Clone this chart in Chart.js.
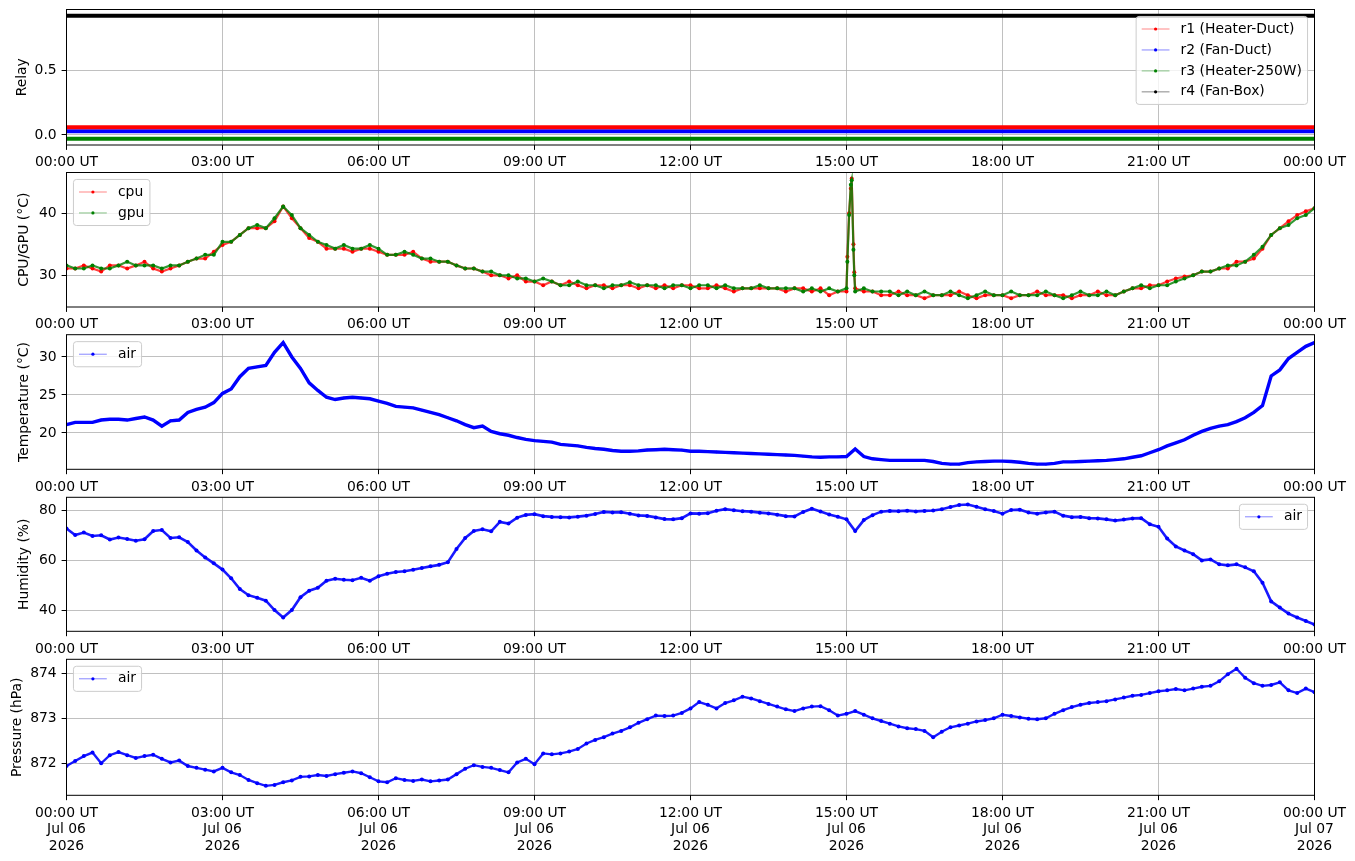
<!DOCTYPE html>
<html>
<head>
<meta charset="utf-8">
<script src="https://cdn.jsdelivr.net/npm/chart.js@4.4.0/dist/chart.umd.min.js"></script>
<style>
  html, body { margin: 0; padding: 0; background: #fff; }
  body { width: 1355px; height: 861px; position: relative; overflow: hidden; }
  canvas { position: absolute; left: 0; }
</style>
</head>
<body>
<canvas id="c0" width="1355" height="170"></canvas>
<canvas id="c1" width="1355" height="170"></canvas>
<canvas id="c2" width="1355" height="170"></canvas>
<canvas id="c3" width="1355" height="170"></canvas>
<canvas id="c4" width="1355" height="210"></canvas>
<script>
// samples every 10 minutes, 00:00 .. 24:00 UT (one row per hour)
const STEP_MIN = 10;

const tempAir = [
  21.1, 21.4, 21.4, 21.4, 21.7, 21.8,
  21.8, 21.7, 21.9, 22.1, 21.7, 20.9,
  21.6, 21.7, 22.7, 23.1, 23.4, 24.0,
  25.2, 25.8, 27.4, 28.5, 28.7, 28.9,
  30.6, 31.9, 30.0, 28.5, 26.6, 25.6,
  24.7, 24.4, 24.6, 24.7, 24.6, 24.5,
  24.2, 23.9, 23.5, 23.4, 23.3, 23.0,
  22.7, 22.4, 22.0, 21.6, 21.1, 20.7,
  20.9, 20.2, 19.9, 19.7, 19.4, 19.15,
  19.0, 18.9, 18.8, 18.5, 18.4, 18.3,
  18.1, 17.95, 17.85, 17.7, 17.6, 17.6,
  17.65, 17.75, 17.8, 17.85, 17.8, 17.75,
  17.6, 17.6, 17.55, 17.5, 17.45, 17.4,
  17.35, 17.3, 17.25, 17.2, 17.15, 17.1,
  17.05, 16.95, 16.85, 16.8, 16.85, 16.85,
  16.9, 17.9, 16.9, 16.6, 16.5, 16.4,
  16.4, 16.4, 16.4, 16.4, 16.25, 16.0,
  15.9, 15.9, 16.1, 16.2, 16.25, 16.3,
  16.3, 16.25, 16.15, 16.0, 15.9, 15.9,
  16.0, 16.2, 16.2, 16.25, 16.3, 16.35,
  16.4, 16.5, 16.6, 16.8, 17.0, 17.4,
  17.8, 18.3, 18.7, 19.1, 19.7, 20.2,
  20.6, 20.9, 21.1, 21.5, 22.0, 22.7,
  23.6, 27.5, 28.3, 29.8, 30.6, 31.4,
  31.9
];

const humAir = [
  72.8, 70.2, 71.2, 69.8, 70.1, 68.4,
  69.2, 68.6, 67.9, 68.5, 71.8, 72.2,
  69.0, 69.3, 67.4, 64.0, 61.2, 58.8,
  56.3, 52.8, 48.5, 46.0, 45.0, 43.8,
  40.0, 37.0, 40.0, 45.2, 47.8, 49.0,
  51.8, 52.6, 52.2, 52.0, 53.0, 51.8,
  53.6, 54.6, 55.3, 55.6, 56.2, 56.9,
  57.6, 58.2, 59.3, 64.6, 69.0, 71.8,
  72.5, 71.7, 75.5, 74.8, 77.2, 78.3,
  78.6, 77.8, 77.5, 77.4, 77.3, 77.6,
  78.0, 78.7, 79.5, 79.3, 79.4, 78.8,
  78.1, 77.9, 77.3, 76.6, 76.5, 77.0,
  78.9, 78.8, 79.0, 80.0, 80.6, 80.2,
  79.8, 79.6, 79.2, 78.9, 78.4, 77.8,
  77.7, 79.5, 80.8, 79.7, 78.5, 77.6,
  76.5, 71.8, 76.2, 78.2, 79.6, 79.9,
  79.8, 80.0, 79.7, 79.9, 80.1, 80.6,
  81.5, 82.3, 82.5, 81.6, 80.6, 79.9,
  78.8, 80.3, 80.4, 79.3, 78.8, 79.3,
  79.6, 78.0, 77.4, 77.5, 77.0, 76.9,
  76.5, 76.0, 76.4, 76.9, 77.0, 74.5,
  73.5, 68.8, 65.6, 64.0, 62.5, 60.0,
  60.4, 58.4, 58.0, 58.4, 57.2, 55.6,
  51.0, 43.5, 41.0, 38.6, 37.0, 35.6,
  34.2
];

const presAir = [
  871.94, 872.05, 872.16, 872.24, 872.00, 872.18,
  872.25, 872.18, 872.12, 872.16, 872.19, 872.10,
  872.02, 872.06, 871.94, 871.90, 871.86, 871.82,
  871.90, 871.80, 871.74, 871.63, 871.56, 871.50,
  871.52, 871.58, 871.62, 871.70, 871.71, 871.74,
  871.72, 871.76, 871.79, 871.82, 871.78, 871.69,
  871.60, 871.58, 871.67, 871.63, 871.61, 871.64,
  871.60, 871.62, 871.64, 871.76, 871.88, 871.96,
  871.92, 871.90, 871.85, 871.80, 872.02, 872.10,
  871.98, 872.22, 872.20, 872.22, 872.26, 872.32,
  872.44, 872.52, 872.58, 872.66, 872.72, 872.80,
  872.90, 872.98, 873.06, 873.05, 873.06, 873.12,
  873.22, 873.36, 873.30, 873.22, 873.34, 873.40,
  873.48, 873.44, 873.38, 873.32, 873.26, 873.20,
  873.16, 873.22, 873.26, 873.27, 873.18, 873.06,
  873.10, 873.16, 873.08, 873.00, 872.94, 872.88,
  872.82, 872.78, 872.76, 872.72, 872.58, 872.70,
  872.80, 872.84, 872.88, 872.93, 872.96, 873.00,
  873.08, 873.05, 873.02, 872.99, 872.98, 873.00,
  873.10, 873.18, 873.25, 873.30, 873.34, 873.36,
  873.38, 873.42, 873.46, 873.50, 873.52, 873.56,
  873.60, 873.62, 873.65, 873.62, 873.66, 873.70,
  873.72, 873.82, 873.98, 874.10, 873.90, 873.78,
  873.72, 873.74, 873.80, 873.62, 873.56, 873.66,
  873.58
];

const cpuTemp = [
  31.1, 31.1, 31.6, 31.1, 30.6, 31.6,
  31.6, 31.1, 31.6, 32.2, 31.1, 30.6,
  31.1, 31.6, 32.2, 32.7, 32.7, 33.8,
  34.9, 35.4, 36.5, 37.6, 37.6, 37.6,
  38.7, 41.1, 39.2, 37.6, 36.0, 35.4,
  34.3, 34.3, 34.3, 33.8, 34.3, 34.3,
  33.8, 33.3, 33.3, 33.3, 33.8, 32.7,
  32.2, 32.2, 32.2, 31.6, 31.1, 31.1,
  30.6, 30.0, 30.0, 29.5, 30.0, 29.0,
  29.0, 28.4, 29.0, 28.4, 29.0, 28.4,
  27.9, 28.4, 28.4, 27.9, 28.4, 28.4,
  27.9, 28.4, 27.9, 28.4, 27.9, 28.4,
  28.4, 27.9, 27.9, 28.4, 27.9, 27.4,
  27.9, 27.9, 27.9, 27.9, 27.9, 27.4,
  27.9, 27.9, 27.4, 27.9, 26.8, 27.4,
  27.4, 27.9, 27.4, 27.4, 26.8, 26.8,
  27.4, 26.8, 26.8, 26.3, 26.8, 26.8,
  26.8, 27.4, 26.8, 26.3, 26.8, 26.8,
  26.8, 26.3, 26.8, 26.8, 27.4, 26.8,
  26.8, 26.8, 26.3, 26.8, 26.8, 27.4,
  26.8, 26.8, 27.4, 27.9, 27.9, 28.4,
  28.4, 29.0, 29.5, 29.8, 30.0, 30.6,
  30.6, 31.1, 31.1, 32.2, 32.2, 32.7,
  34.3, 36.5, 37.6, 38.7, 39.7, 40.3,
  40.8
];

const gpuTemp = [
  31.6, 31.1, 31.1, 31.6, 31.1, 31.1,
  31.6, 32.2, 31.6, 31.6, 31.6, 31.1,
  31.6, 31.6, 32.2, 32.7, 33.3, 33.3,
  35.4, 35.4, 36.5, 37.6, 38.1, 37.6,
  39.2, 41.1, 39.7, 37.6, 36.5, 35.4,
  34.9, 34.3, 34.9, 34.3, 34.3, 34.9,
  34.3, 33.3, 33.3, 33.8, 33.3, 32.7,
  32.7, 32.2, 32.2, 31.6, 31.1, 31.1,
  30.6, 30.6, 30.0, 30.0, 29.5, 29.5,
  29.0, 29.5, 29.0, 28.4, 28.4, 29.0,
  28.4, 28.4, 27.9, 28.4, 28.4, 28.9,
  28.4, 28.4, 28.4, 27.9, 28.4, 28.4,
  27.9, 28.4, 28.4, 27.9, 28.4, 27.9,
  27.9, 27.9, 28.4, 27.9, 27.9, 27.9,
  27.9, 27.4, 27.9, 27.4, 27.9, 27.4,
  27.9, 27.4, 27.9, 27.4, 27.4, 27.4,
  26.8, 27.4, 26.8, 27.4, 26.8, 26.8,
  27.4, 26.8, 26.3, 26.8, 27.4, 26.8,
  26.8, 27.4, 26.8, 26.8, 26.8, 27.4,
  26.8, 26.3, 26.8, 27.4, 26.8, 26.8,
  27.4, 26.8, 27.4, 27.9, 28.4, 27.9,
  28.4, 28.4, 29.0, 29.5, 30.0, 30.6,
  30.6, 31.1, 31.6, 31.6, 32.2, 33.3,
  34.6, 36.5, 37.6, 38.1, 39.2, 39.7,
  40.8
];

// short CPU/GPU spike just after 15:00 UT (minutes of day)
const spikeMin = [901, 903, 905, 906, 908, 909];
const cpuSpike = [33.0, 40.0, 44.0, 45.6, 35.0, 30.5];
const gpuSpike = [32.2, 39.7, 44.6, 45.3, 34.1, 30.0];

// relays stay constant all day
const relayMin = [0, 1440];
const relayR1 = [0.06, 0.06];
const relayR2 = [0.03, 0.03];
const relayR3 = [-0.03, -0.03];
const relayR4 = [0.93, 0.93];

const xTickMin = [0, 180, 360, 540, 720, 900, 1080, 1260, 1440];
const xTickLabels = ['00:00 UT', '03:00 UT', '06:00 UT', '09:00 UT', '12:00 UT',
                     '15:00 UT', '18:00 UT', '21:00 UT', '00:00 UT'];
const xDateLabels = ['Jul 06', 'Jul 06', 'Jul 06', 'Jul 06', 'Jul 06',
                     'Jul 06', 'Jul 06', 'Jul 06', 'Jul 07'];
const xYearLabel = '2026';

const relayTicks = [0, 0.5];
const relayTickText = ['0.0', '0.5'];
const cpuTicks = [30, 40];
const tempTicks = [20, 25, 30];
const humTicks = [40, 60, 80];
const presTicks = [872, 873, 874];

// ---- layout ----
const FS = 13.9;
Chart.defaults.font.family = '"DejaVu Sans", sans-serif';
Chart.defaults.font.size = FS;
Chart.defaults.color = '#000';

const PLOT_LEFT = 66.5, PLOT_RIGHT = 1314.5;
const panelTop = [9.5, 172.5, 334.7, 497.3, 659.3];
const panelBottom = [145, 307, 469.3, 631.3, 795.3];
const canvasTop = [1, 164, 326, 489, 651];

const onGrid = arr => arr.map((v, i) => ({ x: i * STEP_MIN, y: v }));
const withSpike = (arr, extra) =>
  onGrid(arr).concat(spikeMin.map((m, i) => ({ x: m, y: extra[i] }))).sort((a, b) => a.x - b.x);
const pairs = (xs, ys) => xs.map((x, i) => ({ x: x, y: ys[i] }));

function roundRect(ctx, x, y, w, h, r) {
  ctx.beginPath();
  ctx.moveTo(x + r, y);
  ctx.lineTo(x + w - r, y);
  ctx.arcTo(x + w, y, x + w, y + r, r);
  ctx.lineTo(x + w, y + h - r);
  ctx.arcTo(x + w, y + h, x + w - r, y + h, r);
  ctx.lineTo(x + r, y + h);
  ctx.arcTo(x, y + h, x, y + h - r, r);
  ctx.lineTo(x, y + r);
  ctx.arcTo(x, y, x + r, y, r);
  ctx.closePath();
}

// matplotlib-like frame, y label and legend box
const mplDecor = {
  id: 'mplDecor',
  afterDatasetsDraw(chart, args, o) {
    const ctx = chart.ctx, a = chart.chartArea;
    ctx.save();
    ctx.strokeStyle = '#000';
    ctx.lineWidth = 1;
    ctx.strokeRect(a.left, a.top, a.right - a.left, a.bottom - a.top);

    ctx.font = FS + 'px "DejaVu Sans"';
    ctx.fillStyle = '#000';
    ctx.textAlign = 'center';
    ctx.textBaseline = 'middle';
    ctx.translate(o.ylabelX, (a.top + a.bottom) / 2);
    ctx.rotate(-Math.PI / 2);
    ctx.fillText(o.ylabel, 0, 0);
    ctx.restore();

    ctx.save();
    ctx.font = FS + 'px "DejaVu Sans"';
    const pad = 0.4 * FS, hl = 2 * FS, htp = 0.8 * FS, ls = 0.5 * FS, bap = 0.5 * FS, rowH = 14;
    const items = o.items;
    const tw = Math.max(...items.map(it => ctx.measureText(it.label).width));
    const w = pad * 2 + hl + htp + tw;
    const h = pad * 2 + items.length * rowH + (items.length - 1) * ls;
    const x = o.loc === 'ur' ? a.right - bap - w : a.left + bap;
    const y = a.top + bap;
    roundRect(ctx, x, y, w, h, 3);
    ctx.fillStyle = 'rgba(255,255,255,0.8)';
    ctx.fill();
    ctx.strokeStyle = '#cccccc';
    ctx.lineWidth = 1;
    ctx.stroke();
    items.forEach((it, i) => {
      const cy = y + pad + rowH / 2 + i * (rowH + ls);
      ctx.strokeStyle = it.line;
      ctx.lineWidth = 0.8;
      ctx.beginPath();
      ctx.moveTo(x + pad, cy);
      ctx.lineTo(x + pad + hl, cy);
      ctx.stroke();
      ctx.fillStyle = it.color;
      ctx.beginPath();
      ctx.arc(x + pad + hl / 2, cy, 1.6, 0, Math.PI * 2);
      ctx.fill();
      ctx.fillStyle = '#000';
      ctx.textAlign = 'left';
      ctx.textBaseline = 'middle';
      ctx.fillText(it.label, x + pad + hl + htp, cy);
    });
    ctx.restore();
  }
};

function makePanel(idx, datasets, yMin, yMax, yTicks, yTickText, ylabel, ylabelX, legend) {
  const cv = document.getElementById('c' + idx);
  cv.style.top = canvasTop[idx] + 'px';
  const padTop = panelTop[idx] - canvasTop[idx];
  const xH = cv.height - (panelBottom[idx] - canvasTop[idx]);
  const bottom = idx === 4;
  return new Chart(cv, {
    type: 'line',
    data: { datasets: datasets },
    plugins: [mplDecor],
    options: {
      responsive: false,
      animation: false,
      events: [],
      layout: { padding: { top: padTop, left: 0, right: 1355 - PLOT_RIGHT, bottom: 0 } },
      plugins: {
        legend: { display: false },
        tooltip: { enabled: false },
        mplDecor: { ylabel: ylabel, ylabelX: ylabelX, loc: legend.loc, items: legend.items }
      },
      scales: {
        x: {
          type: 'linear',
          min: 0,
          max: 1440,
          afterBuildTicks: s => { s.ticks = xTickMin.map(v => ({ value: v })); },
          afterFit: s => { s.height = xH; s.paddingLeft = 0; s.paddingRight = 0; },
          ticks: {
            autoSkip: false,
            maxRotation: 0,
            padding: 4.5,
            callback: (v, i) => bottom ? [xTickLabels[i], xDateLabels[i], xYearLabel] : xTickLabels[i]
          },
          grid: { color: '#b0b0b0', lineWidth: 0.8, tickColor: '#000', tickLength: 4.9, tickWidth: 1 },
          border: { display: false }
        },
        y: {
          min: yMin,
          max: yMax,
          afterBuildTicks: s => { s.ticks = yTicks.map(v => ({ value: v })); },
          afterFit: s => { s.width = PLOT_LEFT; s.paddingTop = 0; s.paddingBottom = 0; },
          ticks: {
            padding: 4.9,
            callback: (v, i) => yTickText ? yTickText[i] : String(yTicks[i])
          },
          grid: { color: '#b0b0b0', lineWidth: 0.8, tickColor: '#000', tickLength: 4.9, tickWidth: 1 },
          border: { display: false }
        }
      }
    }
  });
}

const lineDefaults = { tension: 0, pointBorderWidth: 0, pointHoverRadius: 0, fill: false };

// 1: relays
makePanel(0, [
  { ...lineDefaults, label: 'r1 (Heater-Duct)', data: pairs(relayMin, relayR1), borderColor: '#ff0000', borderWidth: 4, pointRadius: 0 },
  { ...lineDefaults, label: 'r2 (Fan-Duct)', data: pairs(relayMin, relayR2), borderColor: '#0000ff', borderWidth: 4, pointRadius: 0 },
  { ...lineDefaults, label: 'r3 (Heater-250W)', data: pairs(relayMin, relayR3), borderColor: '#008000', borderWidth: 4, pointRadius: 0 },
  { ...lineDefaults, label: 'r4 (Fan-Box)', data: pairs(relayMin, relayR4), borderColor: '#000000', borderWidth: 4, pointRadius: 0 }
], -0.078, 0.978, relayTicks, relayTickText, 'Relay', 22, {
  loc: 'ur',
  items: [
    { label: 'r1 (Heater-Duct)', color: '#ff0000', line: 'rgba(255,0,0,0.6)' },
    { label: 'r2 (Fan-Duct)', color: '#0000ff', line: 'rgba(0,0,255,0.6)' },
    { label: 'r3 (Heater-250W)', color: '#008000', line: 'rgba(0,128,0,0.6)' },
    { label: 'r4 (Fan-Box)', color: '#000000', line: 'rgba(0,0,0,0.6)' }
  ]
});

// 2: cpu / gpu (gpu drawn on top)
makePanel(1, [
  { ...lineDefaults, label: 'cpu', order: 1, data: withSpike(cpuTemp, cpuSpike), borderColor: 'rgba(255,0,0,0.75)', borderWidth: 2.2, pointRadius: 2, pointBackgroundColor: '#ff0000' },
  { ...lineDefaults, label: 'gpu', order: 0, data: withSpike(gpuTemp, gpuSpike), borderColor: 'rgba(0,128,0,0.8)', borderWidth: 2.2, pointRadius: 2, pointBackgroundColor: '#008000' }
], 24.9, 46.56, cpuTicks, null, 'CPU/GPU (°C)', 24, {
  loc: 'ul',
  items: [
    { label: 'cpu', color: '#ff0000', line: 'rgba(255,0,0,0.6)' },
    { label: 'gpu', color: '#008000', line: 'rgba(0,128,0,0.6)' }
  ]
});

// 3: air temperature
makePanel(2, [
  { ...lineDefaults, label: 'air', data: onGrid(tempAir), borderColor: '#0000ff', borderWidth: 3.4, pointRadius: 1.2, pointBackgroundColor: '#0000ff' }
], 15.22, 32.93, tempTicks, null, 'Temperature (°C)', 24, {
  loc: 'ul',
  items: [{ label: 'air', color: '#0000ff', line: 'rgba(0,0,255,0.6)' }]
});

// 4: humidity
makePanel(3, [
  { ...lineDefaults, label: 'air', data: onGrid(humAir), borderColor: 'rgba(0,0,255,0.9)', borderWidth: 2.6, pointRadius: 2, pointBackgroundColor: '#0000ff' }
], 31.47, 85.38, humTicks, null, 'Humidity (%)', 24, {
  loc: 'ur',
  items: [{ label: 'air', color: '#0000ff', line: 'rgba(0,0,255,0.6)' }]
});

// 5: pressure
makePanel(4, [
  { ...lineDefaults, label: 'air', data: onGrid(presAir), borderColor: 'rgba(0,0,255,0.9)', borderWidth: 2.4, pointRadius: 2, pointBackgroundColor: '#0000ff' }
], 871.29, 874.31, presTicks, null, 'Pressure (hPa)', 17, {
  loc: 'ul',
  items: [{ label: 'air', color: '#0000ff', line: 'rgba(0,0,255,0.6)' }]
});
</script>
</body>
</html>
